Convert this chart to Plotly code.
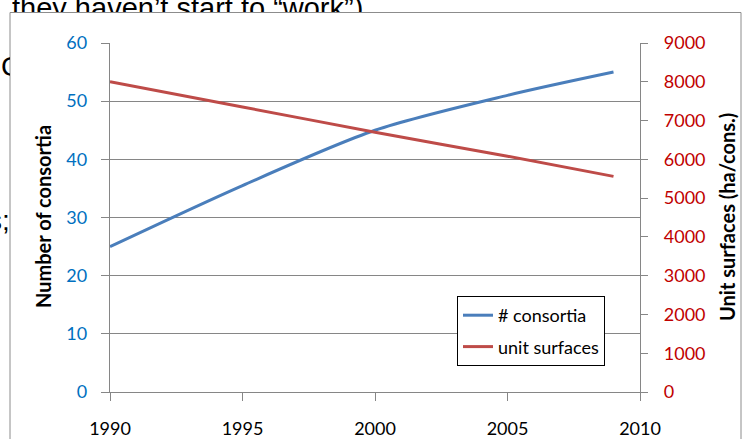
import plotly.graph_objects as go

# Data
years = [1990, 1995, 2000, 2005, 2009]
consortia = [25, 35.5, 45, 51, 55]
unit_surfaces = [8000, 7350, 6700, 6080, 5560]

x_ticks = [1990, 1995, 2000, 2005, 2010]

W, H = 744, 439
ML, MR, MT, MB = 110, 104, 43, 47
PW, PH = W - ML - MR, H - MT - MB


def px_x(p):
    return (p - ML) / PW


def px_y(p):
    return (H - MB - p) / PH


BLUE = "#4A7EBB"
RED = "#BE4B48"
GRID = "#868686"
FONT = "Lato"

fig = go.Figure()
fig.add_trace(go.Scatter(
    x=years, y=consortia, name="# consortia", mode="lines",
    line=dict(color=BLUE, width=3, shape="spline", smoothing=0.8),
    legendgroup="a", yaxis="y"))
fig.add_trace(go.Scatter(
    x=years, y=unit_surfaces, name="unit surfaces", mode="lines",
    line=dict(color=RED, width=3, shape="spline", smoothing=0.8),
    legendgroup="b", yaxis="y2"))

fig.update_layout(
    width=W, height=H,
    margin=dict(l=ML, r=MR, t=MT, b=MB, autoexpand=False),
    paper_bgcolor="white", plot_bgcolor="white",
    font=dict(family=FONT, size=18, color="black"),
    showlegend=True,
    legend=dict(
        x=px_x(457), y=px_y(296), xanchor="left", yanchor="top",
        bgcolor="white", bordercolor="black", borderwidth=1,
        font=dict(family=FONT, size=18, color="black"),
        tracegroupgap=5, traceorder="grouped",
    ),
    xaxis=dict(
        range=[1990, 2010], tickvals=x_ticks, ticktext=[str(v) for v in x_ticks],
        showgrid=False, zeroline=False,
        showline=True, linecolor=GRID, linewidth=1.3,
        ticks="outside", ticklen=8, tickcolor=GRID, tickwidth=1.3,
        tickfont=dict(family=FONT, size=18, color="black"),
        ticklabelstandoff=12,
    ),
    yaxis=dict(
        range=[0, 60], dtick=10, showgrid=True, gridcolor=GRID, gridwidth=1.3,
        zeroline=False, showline=True, linecolor=GRID, linewidth=1.3,
        ticks="outside", ticklen=8, tickcolor=GRID, tickwidth=1.3,
        tickfont=dict(family=FONT, size=18, color="#0070C0"),
        ticklabelstandoff=10,
    ),
    yaxis2=dict(
        range=[0, 9000], dtick=1000, overlaying="y", side="right",
        showgrid=False, zeroline=False,
        showline=True, linecolor=GRID, linewidth=1.3,
        ticks="outside", ticklen=7, tickcolor=GRID, tickwidth=1.3,
        tickfont=dict(family=FONT, size=18, color="#C00000"),
        ticklabelstandoff=12,
    ),
)

# Chart frame on the slide
fig.add_shape(type="rect", xref="paper", yref="paper",
              x0=px_x(10), x1=px_x(741), y0=px_y(460), y1=px_y(12.5),
              line=dict(color="#8C8C8C", width=1), fillcolor="rgba(0,0,0,0)",
              layer="below")

# Axis titles
fig.add_annotation(text="<b>Number of consortia</b>", xref="paper", yref="paper",
                   x=px_x(43), y=px_y(217), textangle=-90, showarrow=False,
                   xanchor="center", yanchor="middle",
                   font=dict(family=FONT, size=20, color="black"))
fig.add_annotation(text="<b>Unit surfaces (ha/cons.)</b>", xref="paper", yref="paper",
                   x=px_x(727), y=px_y(217), textangle=-90, showarrow=False,
                   xanchor="center", yanchor="middle",
                   font=dict(family=FONT, size=20, color="black"))

# Slide text partly hidden behind the chart frame
fig.add_annotation(text="they haven’t start to “work”)", xref="paper", yref="paper",
                   x=px_x(11), y=px_y(12.5), xanchor="left", yanchor="bottom",
                   height=20, valign="top", align="left", borderpad=0,
                   showarrow=False,
                   font=dict(family="Liberation Sans", size=29, color="black"))
fig.add_annotation(text="C", xref="paper", yref="paper",
                   x=px_x(0), y=px_y(67), xanchor="left", yanchor="middle",
                   width=9, align="left", borderpad=0, showarrow=False,
                   font=dict(family="Liberation Sans", size=28, color="black"))
fig.add_annotation(text="s;", xref="paper", yref="paper",
                   x=px_x(11), y=px_y(220), xanchor="right", yanchor="middle",
                   borderpad=0, showarrow=False,
                   font=dict(family="Liberation Sans", size=28, color="black"))

fig.write_html("out.html")
